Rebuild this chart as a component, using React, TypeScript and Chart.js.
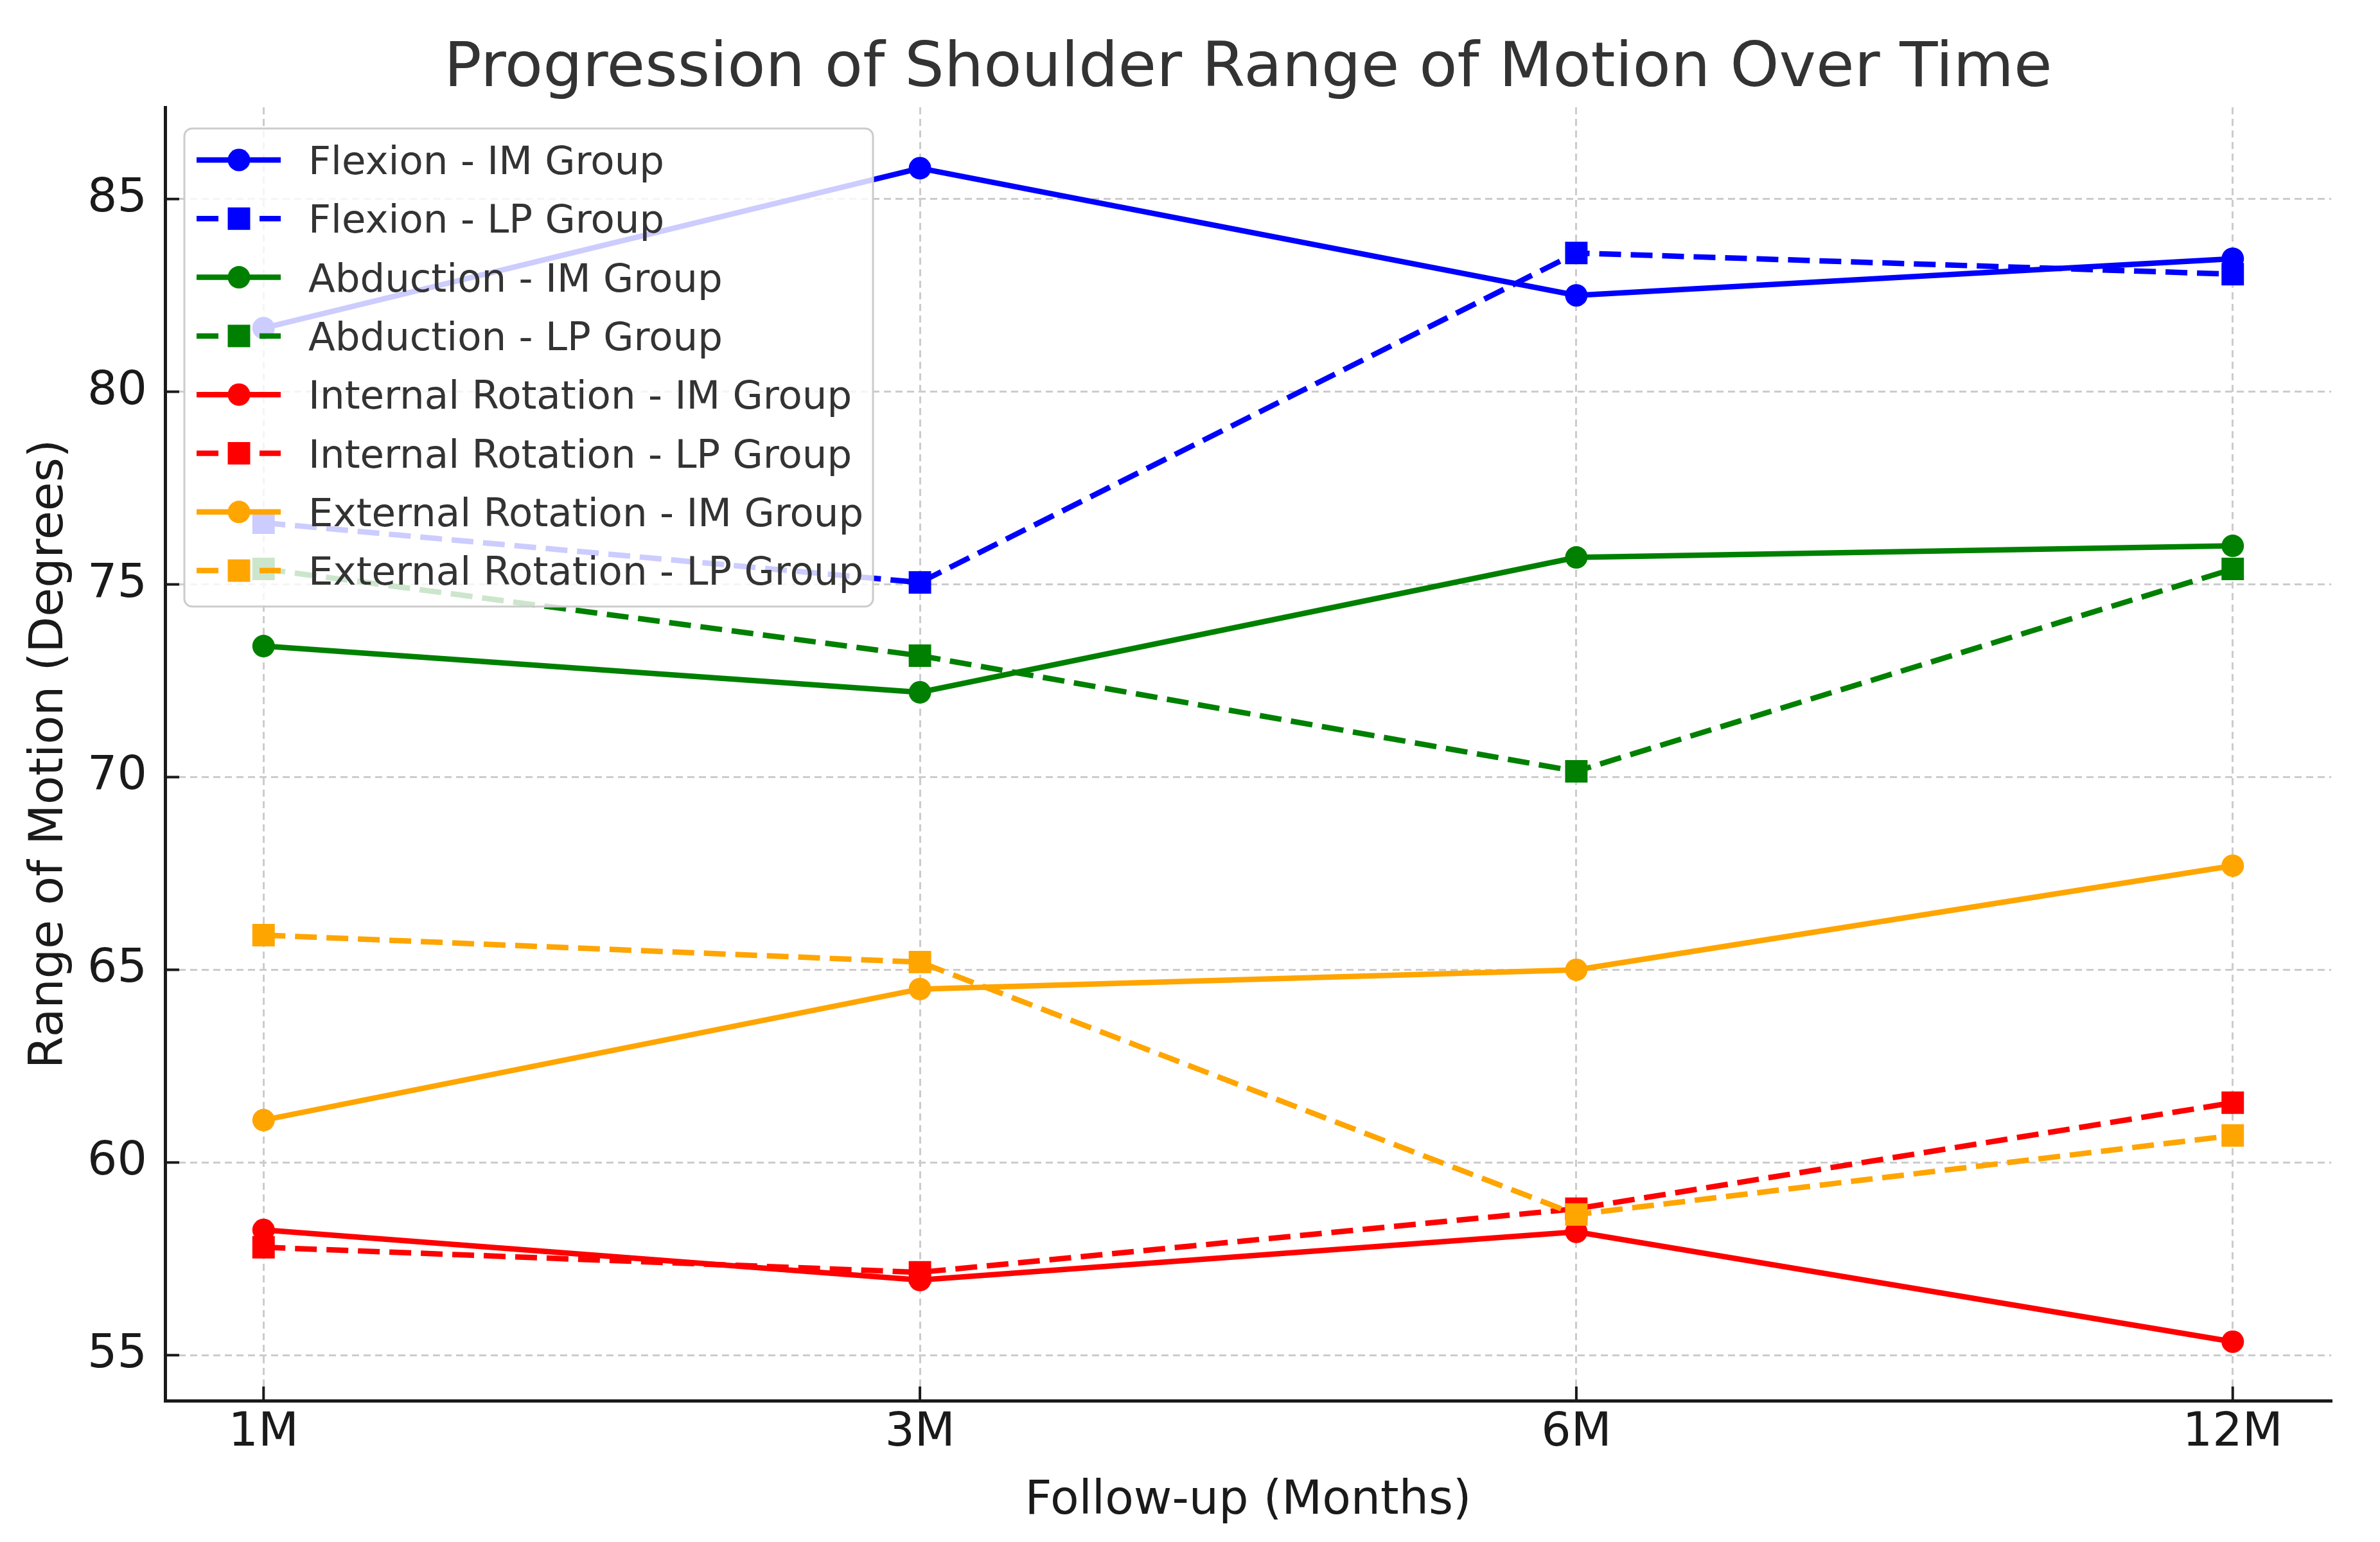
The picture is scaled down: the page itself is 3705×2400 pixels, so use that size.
import React, { useEffect, useRef } from 'react';
import { Chart, registerables } from 'chart.js';

Chart.register(...registerables);

const categories = ['1M', '3M', '6M', '12M'];
const flexionIM = [81.65, 85.8, 82.5, 83.45];
const flexionLP = [76.6, 75.05, 83.6, 83.05];
const abductionIM = [73.4, 72.2, 75.7, 76.0];
const abductionLP = [75.4, 73.15, 70.15, 75.4];
const internalIM = [58.25, 56.95, 58.2, 55.35];
const internalLP = [57.8, 57.15, 58.8, 61.55];
const externalIM = [61.1, 64.5, 65.0, 67.7];
const externalLP = [65.9, 65.2, 58.65, 60.7];
const yTickValues = [55, 60, 65, 70, 75, 80, 85];

const seriesLabels = [
  'Flexion - IM Group',
  'Flexion - LP Group',
  'Abduction - IM Group',
  'Abduction - LP Group',
  'Internal Rotation - IM Group',
  'Internal Rotation - LP Group',
  'External Rotation - IM Group',
  'External Rotation - LP Group',
];
const seriesValues = [flexionIM, flexionLP, abductionIM, abductionLP, internalIM, internalLP, externalIM, externalLP];
const seriesColors = ['#0000ff', '#0000ff', '#008000', '#008000', '#ff0000', '#ff0000', '#ffa500', '#ffa500'];
const seriesIsLP = [false, true, false, true, false, true, false, true];

const titleText = 'Progression of Shoulder Range of Motion Over Time';
const xTitle = 'Follow-up (Months)';
const yTitle = 'Range of Motion (Degrees)';

const FONT = 'DejaVu Sans';
const DASH = [34, 15];
const LINE_W = 8.5;
const CIRCLE_R = 17.5;
const RECT_R = 24.7;

const titlePlugin = {
  id: 'customTitle',
  afterDraw(chart: any) {
    const { ctx, chartArea } = chart;
    ctx.save();
    ctx.font = `97px "${FONT}"`;
    ctx.fillStyle = '#333333';
    ctx.textAlign = 'center';
    ctx.textBaseline = 'alphabetic';
    ctx.fillText(titleText, (chartArea.left + chartArea.right) / 2, 134);
    ctx.restore();
  },
};

const ticksAndLegendPlugin = {
  id: 'ticksAndLegend',
  afterDatasetsDraw(chart: any) {
    const { ctx, chartArea, scales } = chart;
    ctx.save();
    // inward tick marks
    ctx.strokeStyle = '#1a1a1a';
    ctx.lineWidth = 4;
    ctx.setLineDash([]);
    scales.y.ticks.forEach((t: any) => {
      const y = scales.y.getPixelForValue(t.value);
      ctx.beginPath();
      ctx.moveTo(chartArea.left, y);
      ctx.lineTo(chartArea.left + 22, y);
      ctx.stroke();
    });
    scales.x.ticks.forEach((t: any) => {
      const x = scales.x.getPixelForValue(t.value);
      ctx.beginPath();
      ctx.moveTo(x, chartArea.bottom);
      ctx.lineTo(x, chartArea.bottom - 22);
      ctx.stroke();
    });

    // legend
    const bx = 287, by = 200, bw = 1359 - 287, bh = 944 - 200, r = 12;
    ctx.beginPath();
    ctx.moveTo(bx + r, by);
    ctx.lineTo(bx + bw - r, by);
    ctx.arcTo(bx + bw, by, bx + bw, by + r, r);
    ctx.lineTo(bx + bw, by + bh - r);
    ctx.arcTo(bx + bw, by + bh, bx + bw - r, by + bh, r);
    ctx.lineTo(bx + r, by + bh);
    ctx.arcTo(bx, by + bh, bx, by + bh - r, r);
    ctx.lineTo(bx, by + r);
    ctx.arcTo(bx, by, bx + r, by, r);
    ctx.closePath();
    ctx.fillStyle = 'rgba(255,255,255,0.8)';
    ctx.fill();
    ctx.strokeStyle = '#cccccc';
    ctx.lineWidth = 3;
    ctx.stroke();

    chart.data.datasets.forEach((ds: any, i: number) => {
      const cy = 249 + i * 91.3;
      ctx.strokeStyle = ds.borderColor;
      ctx.lineWidth = ds.borderWidth;
      ctx.setLineDash(ds.borderDash || []);
      ctx.beginPath();
      ctx.moveTo(306, cy);
      ctx.lineTo(437, cy);
      ctx.stroke();
      ctx.setLineDash([]);
      ctx.fillStyle = ds.pointBackgroundColor;
      if (ds.pointStyle === 'rect') {
        const h = RECT_R * Math.SQRT1_2;
        ctx.fillRect(372 - h, cy - h, 2 * h, 2 * h);
      } else {
        ctx.beginPath();
        ctx.arc(372, cy, CIRCLE_R, 0, Math.PI * 2);
        ctx.fill();
      }
      ctx.fillStyle = '#333333';
      ctx.font = `61px "${FONT}"`;
      ctx.textAlign = 'left';
      ctx.textBaseline = 'alphabetic';
      ctx.fillText(ds.label, 480, cy + 22);
    });
    ctx.restore();
  },
};

export default function App() {
  const canvasRef = useRef<HTMLCanvasElement | null>(null);

  useEffect(() => {
    if (!canvasRef.current) return;
    const n = seriesLabels.length;
    const datasets = seriesLabels.map((label, i) => ({
      label,
      data: seriesValues[i].map((v, j) => ({ x: j, y: v })),
      borderColor: seriesColors[i],
      backgroundColor: seriesColors[i],
      pointBackgroundColor: seriesColors[i],
      pointBorderColor: seriesColors[i],
      pointBorderWidth: 0,
      borderWidth: LINE_W,
      borderDash: seriesIsLP[i] ? DASH : [],
      pointStyle: seriesIsLP[i] ? 'rect' : 'circle',
      pointRadius: seriesIsLP[i] ? RECT_R : CIRCLE_R,
      tension: 0,
      fill: false,
      order: n - 1 - i,
    }));

    const tickFont = { family: FONT, size: 73 };
    const chart = new Chart(canvasRef.current, {
      type: 'line',
      data: { datasets },
      options: {
        animation: false,
        responsive: false,
        devicePixelRatio: 1,
        layout: { padding: { top: 167, right: 76, left: 0, bottom: 0 } },
        plugins: {
          legend: { display: false },
          tooltip: { enabled: false },
          title: { display: false },
        },
        scales: {
          x: {
            type: 'linear',
            min: -0.15,
            max: 3.15,
            afterBuildTicks: (s: any) => {
              s.ticks = categories.map((_, i) => ({ value: i }));
            },
            afterFit: (s: any) => {
              s.height = 220;
            },
            ticks: {
              callback: (v: any) => categories[v as number],
              font: tickFont,
              color: '#1a1a1a',
              padding: 7,
              autoSkip: false,
              maxRotation: 0,
            },
            grid: { color: '#cccccc', lineWidth: 3, drawTicks: false },
            border: { display: true, color: '#1a1a1a', width: 5, dash: [11, 7] },
            title: {
              display: true,
              text: xTitle,
              font: { family: FONT, size: 73 },
              color: '#1a1a1a',
              padding: { top: 14, bottom: 19 },
            },
          },
          y: {
            type: 'linear',
            min: 53.82,
            max: 87.38,
            afterBuildTicks: (s: any) => {
              s.ticks = yTickValues.map((v) => ({ value: v }));
            },
            afterFit: (s: any) => {
              s.width = 257;
            },
            ticks: {
              font: tickFont,
              color: '#1a1a1a',
              padding: 28,
            },
            grid: { color: '#cccccc', lineWidth: 3, drawTicks: false },
            border: { display: true, color: '#1a1a1a', width: 5, dash: [11, 7] },
            title: {
              display: true,
              text: yTitle,
              font: { family: FONT, size: 73 },
              color: '#1a1a1a',
              padding: { top: 34, bottom: 34 },
            },
          },
        },
      },
      plugins: [titlePlugin, ticksAndLegendPlugin],
    } as any);
    return () => chart.destroy();
  }, []);

  return (
    <div style={{ position: 'fixed', left: 0, top: 0, width: 3705, height: 2400, background: '#ffffff' }}>
      <canvas ref={canvasRef} width={3705} height={2400} style={{ display: 'block', width: 3705, height: 2400 }} />
    </div>
  );
}
